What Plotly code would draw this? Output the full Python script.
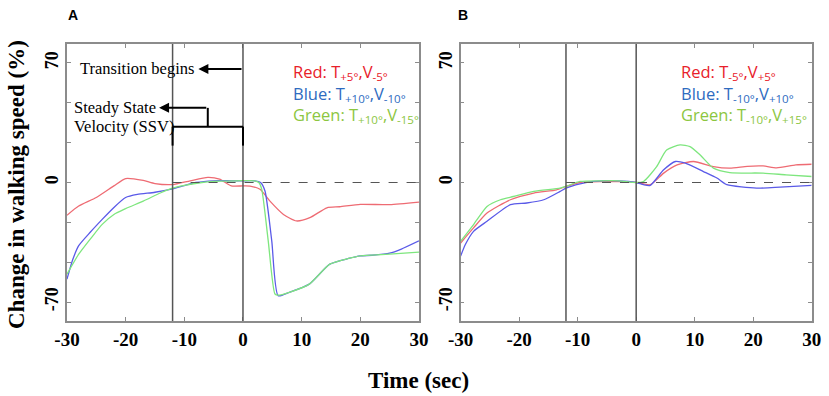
import plotly.graph_objects as go

# ---------------- data ----------------
a_red_t = [-30, -28, -25, -22, -20, -17, -15, -12, -9, -6, -4, -2, 0, 1.2, 2.9, 4.6, 6.9, 9.1, 11.4, 14.3, 16.5, 20, 25, 30]
a_red_v = [-19.2, -13.8, -8.8, -2, 2.3, 1.2, -0.6, -1.2, 1, 3, 2, -2, -2, -2.1, -4, -10.9, -18.7, -22.5, -20.6, -14.8, -14.2, -12.8, -13, -11.5]

a_blue_t = [-30, -29, -28, -26, -24, -22, -20, -18, -15, -12, -10, -8, -5, -2, 0, 2, 3, 3.75, 4.9, 6, 7.9, 11.3, 14.8, 18, 20, 22, 25, 27, 30]
a_blue_v = [-56.6, -45, -37, -29, -21.6, -14.6, -8.8, -7, -5.7, -3.7, -1.8, 0, 1, 1, 1, 1, 0, -5, -34, -66.3, -64.3, -59.5, -47.8, -44.5, -43, -42.6, -41.4, -39, -34.2]

a_green_t = [-30, -28, -26, -24, -22, -20, -17, -14, -12, -10, -7, -4, -1, 2, 2.7, 3.2, 4.3, 5.45, 6, 7.9, 11.3, 14.8, 18, 20, 22, 25, 30]
a_green_v = [-53.7, -42, -33, -24.5, -18.7, -15.3, -10.9, -6, -3.3, -1.7, 0, 0.8, 1, 1, 0, -4, -34, -65.3, -66, -64.3, -59.5, -47.8, -44.5, -43, -42.5, -42, -40.8]

b_red_t = [-30, -27.8, -25.5, -21.5, -17.5, -13.6, -12, -9.6, -6, -3, 0, 2.4, 4.7, 7, 9.8, 13.2, 16, 19, 21.7, 24, 27.3, 30]
b_red_v = [-35.4, -26.6, -17.9, -10.1, -6.2, -4.3, -2.3, 0, 0.5, 0.5, 0, -1.3, 5.5, 10.3, 12.3, 9.3, 8.4, 9.5, 9.7, 8.6, 10.3, 10.7]

b_green_t = [-30, -27.8, -25.5, -23.2, -21, -17.5, -13, -12, -9.6, -6, -3, 0, 1.25, 3.5, 5.2, 7.5, 9.2, 10.9, 13.2, 16, 21.7, 25.6, 30]
b_green_v = [-34.4, -24.7, -14, -10.1, -8.2, -5.2, -3.3, -2.3, 0.6, 1, 1, 0, 0.6, 9.3, 19, 22, 21, 16.2, 8.4, 5.8, 5.5, 4.5, 3.5]

b_blue_t = [-30, -29.2, -27.8, -25.5, -21.5, -18.7, -15.8, -13, -12, -9.6, -7.3, -3, 0, 1.25, 2.4, 4.7, 6.7, 8.4, 11.5, 13.8, 15.5, 20.6, 24.6, 30]
b_blue_v = [-43, -36.3, -28.6, -22.7, -13, -12, -10.1, -5.2, -3.3, -0.8, 0.6, 1, 0, -1.3, -1.7, 7.4, 12.3, 11.3, 6.4, 2.6, -1.3, -3.3, -2.7, -1.7]

x_ticks = [-30, -20, -10, 0, 10, 20, 30]
x_ticktext = ["-30", "-20", "-10", "0", "10", "20", "30"]
y_ticks = [70, 0, -70]
y_ticktext = ["70", "0", "-70"]
y_minor_ticks = [46.67, 23.33, -23.33, -46.67]

legend_a = ["Red: T<sub>+5°</sub>,V<sub>-5°</sub>",
            "Blue: T<sub>+10°</sub>,V<sub>-10°</sub>",
            "Green: T<sub>+10°</sub>,V<sub>-15°</sub>"]
legend_b = ["Red: T<sub>-5°</sub>,V<sub>+5°</sub>",
            "Blue: T<sub>-10°</sub>,V<sub>+10°</sub>",
            "Green: T<sub>-10°</sub>,V<sub>+15°</sub>"]

# ---------------- style ----------------
RED, BLUE, GREEN = "#ee6b73", "#5a5ae8", "#7ee67e"
TXT_RED, TXT_BLUE, TXT_GREEN = "#e8202a", "#2e6bbf", "#8cc63f"
SERIF = "Liberation Serif"

fig = go.Figure()

def add_line(t, v, color, xa, ya):
    fig.add_trace(go.Scatter(x=t, y=v, mode="lines", xaxis=xa, yaxis=ya,
                             line=dict(color=color, width=1.3, shape="spline", smoothing=0.6),
                             showlegend=False, hoverinfo="skip"))

add_line(a_red_t, a_red_v, RED, "x", "y")
add_line(a_blue_t, a_blue_v, BLUE, "x", "y")
add_line(a_green_t, a_green_v, GREEN, "x", "y")
add_line(b_red_t, b_red_v, RED, "x2", "y2")
add_line(b_blue_t, b_blue_v, BLUE, "x2", "y2")
add_line(b_green_t, b_green_v, GREEN, "x2", "y2")

YR = [-81.1, 81.1]
ydom = [0.1894, 0.8889]
axis_common = dict(showline=True, mirror="ticks", linecolor="#8c8c8c", linewidth=1.5,
                   ticks="inside", ticklen=4, tickcolor="#8c8c8c", tickwidth=1.2,
                   showgrid=False, zeroline=False, automargin=False)
xfont = dict(family=SERIF, size=19, color="black", weight="bold")
yfont = dict(family=SERIF, size=18, color="black", weight="bold")
yminor = dict(tickvals=y_minor_ticks, ticks="inside", ticklen=4, tickcolor="#8c8c8c", tickwidth=1.2, showgrid=False)

fig.update_layout(
    template="none",
    width=829, height=396,
    margin=dict(l=0, r=0, t=0, b=0, pad=0),
    paper_bgcolor="white", plot_bgcolor="white",
    xaxis=dict(domain=[0.0808, 0.5054], range=[-30, 30], tickvals=x_ticks, ticktext=x_ticktext, tickfont=xfont, anchor="y", **axis_common),
    yaxis=dict(domain=ydom, range=YR, tickvals=y_ticks, ticktext=y_ticktext, tickangle=-90, tickfont=yfont, anchor="x", minor=yminor, **axis_common),
    xaxis2=dict(domain=[0.5557, 0.9791], range=[-30, 30], tickvals=x_ticks, ticktext=x_ticktext, tickfont=xfont, anchor="y2", **axis_common),
    yaxis2=dict(domain=ydom, range=YR, tickvals=y_ticks, ticktext=y_ticktext, tickangle=-90, tickfont=yfont, anchor="x2", minor=yminor, **axis_common),
)

shapes = []
for xr, yr in [("x", "y"), ("x2", "y2")]:
    for xv in [-12, 0]:
        shapes.append(dict(type="line", xref=xr, yref=yr + " domain", x0=xv, x1=xv, y0=0, y1=1,
                           line=dict(color="#555555", width=1.5)))
    shapes.append(dict(type="line", xref=xr, yref=yr, x0=-12, x1=30, y0=0, y1=0,
                       line=dict(color="#555555", width=1.2, dash="dash")))

# SSV bracket (panel A)
blk = dict(color="black", width=2)
shapes += [
    dict(type="line", xref="x", yref="y", x0=-12, x1=0, y0=32.7, y1=32.7, line=blk),
    dict(type="line", xref="x", yref="y", x0=-12, x1=-12, y0=32.7, y1=21.6, line=blk),
    dict(type="line", xref="x", yref="y", x0=0, x1=0, y0=32.7, y1=21.6, line=blk),
    dict(type="line", xref="x", yref="y", x0=-6, x1=-6, y0=32.7, y1=43.7, line=blk),
]
fig.update_layout(shapes=shapes)

ann = []
# arrows
ann.append(dict(xref="x", yref="y", x=-7.6, y=66.5, ax=0, ay=66.5, axref="x", ayref="y",
                text="", showarrow=True, arrowhead=2, arrowsize=1, arrowwidth=2, arrowcolor="black"))
ann.append(dict(xref="x", yref="y", x=-14.3, y=43.7, ax=-6, ay=43.7, axref="x", ayref="y",
                text="", showarrow=True, arrowhead=2, arrowsize=1, arrowwidth=2, arrowcolor="black"))
afont = dict(family=SERIF, size=16.5, color="black")
ann.append(dict(xref="x", yref="y", x=-28.2, y=66.5, text="Transition begins", showarrow=False,
                xanchor="left", yanchor="middle", font=afont))
ann.append(dict(xref="x", yref="y", x=-29.2, y=43.7, text="Steady State", showarrow=False,
                xanchor="left", yanchor="middle", font=afont))
ann.append(dict(xref="x", yref="y", x=-29.2, y=32.5, text="Velocity (SSV)", showarrow=False,
                xanchor="left", yanchor="middle", font=afont))

# legends
lfont = "Open Sans"
for xr, yr, x0, texts in [("x", "y", 8.1, legend_a), ("x2", "y2", 7.35, legend_b)]:
    for txt, yv, col in zip(texts, [64.7, 51.9, 39.7], [TXT_RED, TXT_BLUE, TXT_GREEN]):
        ann.append(dict(xref=xr, yref=yr, x=x0, y=yv, text=txt, showarrow=False,
                        xanchor="left", yanchor="middle", font=dict(family=lfont, size=16.5, color=col)))

# panel labels
ann.append(dict(xref="paper", yref="paper", x=73 / 829, y=1 - 15 / 396, text="A", showarrow=False,
                xanchor="center", yanchor="middle", font=dict(family="Liberation Sans", size=14, color="black", weight="bold")))
ann.append(dict(xref="paper", yref="paper", x=463 / 829, y=1 - 15 / 396, text="B", showarrow=False,
                xanchor="center", yanchor="middle", font=dict(family="Liberation Sans", size=14, color="black", weight="bold")))

# axis titles
tfont = dict(family=SERIF, size=23, color="black", weight="bold")
ann.append(dict(xref="paper", yref="paper", x=17 / 829, y=1 - 185 / 396, text="Change in walking speed (%)",
                showarrow=False, textangle=-90, xanchor="center", yanchor="middle", font=tfont))
ann.append(dict(xref="paper", yref="paper", x=418 / 829, y=1 - 380 / 396, text="Time (sec)",
                showarrow=False, xanchor="center", yanchor="middle", font=tfont))

fig.update_layout(annotations=ann)

fig.write_html("out.html", config={"displayModeBar": False},
               post_script="document.body.style.margin='0';document.body.style.overflow='hidden';")
